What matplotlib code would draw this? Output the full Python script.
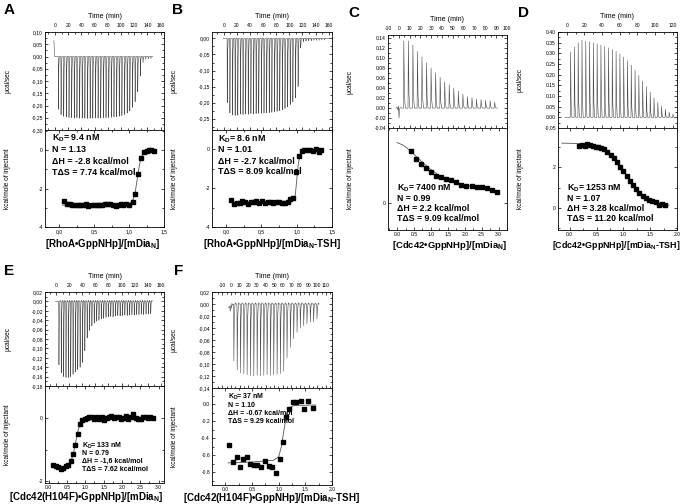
import matplotlib
matplotlib.use('Agg')
import matplotlib.pyplot as plt
from matplotlib.ticker import MultipleLocator, FuncFormatter, FixedLocator

plt.rcParams['font.family'] = ['Liberation Sans', 'DejaVu Sans']
plt.rcParams['axes.unicode_minus'] = False
plt.rcParams['mathtext.fontset'] = 'custom'
plt.rcParams['mathtext.rm'] = 'Liberation Sans'
plt.rcParams['mathtext.bf'] = 'Liberation Sans:bold'
plt.rcParams['mathtext.it'] = 'Liberation Sans:italic'

# ---------------- data ----------------
# Panel A
A_inj_time = [5, 9, 13, 17, 21, 25, 29, 33, 37, 41, 45, 49, 53, 57, 61, 65, 69, 73, 77, 81,
              85, 89, 93, 97, 101, 105, 109, 113, 117, 121, 125, 129, 133, 137, 141, 145]
A_inj_peak = [-0.215, -0.238, -0.244, -0.247, -0.249, -0.25, -0.251, -0.25, -0.252, -0.251,
              -0.252, -0.253, -0.252, -0.252, -0.251, -0.252, -0.251, -0.25, -0.25, -0.249,
              -0.248, -0.247, -0.246, -0.244, -0.241, -0.237, -0.231, -0.222, -0.208, -0.185,
              -0.145, -0.08, -0.025, -0.012, -0.01, -0.008]
A_pre_t = [-1.5, -1.0, -0.4]
A_pre_y = [0.065, 0.03, 0.0]
A_end_t = 148
A_ratio = [0.07, 0.11, 0.15, 0.19, 0.23, 0.27, 0.30, 0.34, 0.38, 0.42, 0.46, 0.50, 0.54, 0.57,
           0.61, 0.65, 0.69, 0.73, 0.77, 0.81, 0.84, 0.88, 0.92, 0.96, 1.00, 1.05, 1.09, 1.13,
           1.17, 1.21, 1.25, 1.28, 1.32, 1.35]
A_heat = [-2.65, -2.78, -2.82, -2.84, -2.86, -2.83, -2.87, -2.85, -2.82, -2.89, -2.88, -2.86,
          -2.87, -2.84, -2.83, -2.82, -2.80, -2.78, -2.87, -2.90, -2.85, -2.82, -2.88, -2.80,
          -2.86, -2.72, -2.28, -1.25, -0.42, -0.10, -0.02, 0.0, 0.0, -0.05]
A_fit_x = [0.05, 0.5, 0.95, 1.02, 1.06, 1.09, 1.12, 1.15, 1.18, 1.22, 1.27, 1.36]
A_fit_y = [-2.86, -2.85, -2.82, -2.75, -2.55, -2.15, -1.45, -0.75, -0.30, -0.08, -0.02, 0.0]
A_text = ['K$_\\mathbf{D}$= 9.4 nM', 'N = 1.13', '\u0394H = -2.8 kcal/mol', 'T\u0394S = 7.74 kcal/mol']

# Panel B
B_inj_time = [5, 9, 13, 17, 21, 25, 29, 33, 37, 41, 45, 49, 53, 57, 61, 65, 69, 73, 77, 81,
              85, 89, 93, 97, 101, 105, 109, 113, 117, 121, 125, 129, 133, 137, 141, 145, 149, 153]
B_inj_peak = [-0.2, -0.232, -0.238, -0.24, -0.239, -0.236, -0.237, -0.235, -0.236, -0.234,
              -0.235, -0.234, -0.233, -0.233, -0.232, -0.232, -0.231, -0.23, -0.229, -0.227,
              -0.225, -0.222, -0.218, -0.213, -0.206, -0.197, -0.185, -0.15, -0.03, -0.01,
              -0.008, -0.007, -0.007, -0.006, -0.006, -0.006, -0.005, -0.005]
B_pre_t = [-1.0]
B_pre_y = [0.0]
B_end_t = 163
B_ratio = [0.07, 0.11, 0.15, 0.19, 0.23, 0.27, 0.31, 0.35, 0.39, 0.43, 0.47, 0.51, 0.55, 0.59,
           0.63, 0.67, 0.71, 0.75, 0.79, 0.83, 0.87, 0.91, 0.95, 0.99, 1.03, 1.07, 1.11, 1.15,
           1.19, 1.23, 1.27, 1.31, 1.35]
B_heat = [-2.62, -2.82, -2.75, -2.76, -2.68, -2.72, -2.80, -2.70, -2.72, -2.68, -2.74, -2.68,
          -2.76, -2.70, -2.72, -2.75, -2.73, -2.72, -2.75, -2.78, -2.72, -2.58, -2.50, -1.15,
          -0.35, -0.08, -0.05, -0.02, -0.02, -0.10, 0.02, -0.12, -0.05]
B_fit_x = [0.05, 0.5, 0.9, 0.95, 0.98, 1.0, 1.02, 1.05, 1.09, 1.15, 1.36]
B_fit_y = [-2.73, -2.72, -2.70, -2.62, -2.35, -1.6, -0.8, -0.25, -0.06, -0.02, 0.0]
B_text = ['K$_\\mathbf{D}$= 8.6 nM', 'N = 1.01', '\u0394H = -2.7 kcal/mol', 'T\u0394S = 8.09 kcal/mol']

# Panel C
C_inj_time = [4.3, 8.5, 12.7, 16.9, 21.1, 25.3, 29.5, 33.7, 37.9, 42.1, 46.3, 50.5, 54.7,
              58.9, 63.1, 67.3, 71.5, 75.7, 79.9, 84.1, 88.3]
C_inj_peak = [0.135, 0.135, 0.127, 0.114, 0.103, 0.091, 0.081, 0.071, 0.062, 0.053, 0.047,
              0.04, 0.034, 0.028, 0.023, 0.021, 0.018, 0.017, 0.016, 0.015, 0.012]
C_pre_t = [-3.0, -1.5, -0.8, -0.3, 0.2, 0.6, 1.2, 2.5]
C_pre_y = [0.0, 0.002, -0.004, 0.004, -0.02, -0.003, 0.001, 0.0]
C_end_t = 91
C_ratio = [0.40, 0.55, 0.70, 0.85, 1.00, 1.15, 1.30, 1.45, 1.60, 1.75, 1.90, 2.05, 2.20, 2.35,
           2.50, 2.65, 2.80, 2.95]
C_heat = [2.07, 1.76, 1.57, 1.39, 1.23, 1.07, 1.04, 0.96, 0.91, 0.83, 0.73, 0.69, 0.67, 0.64,
          0.64, 0.61, 0.51, 0.43]
C_fit_x = [0.0, 0.2, 0.4, 0.6, 0.8, 1.0, 1.2, 1.4, 1.6, 1.8, 2.0, 2.2, 2.4, 2.6, 2.8, 3.0]
C_fit_y = [2.42, 2.30, 2.08, 1.82, 1.57, 1.34, 1.15, 1.00, 0.89, 0.80, 0.73, 0.67, 0.62, 0.57,
           0.52, 0.47]
C_text = ['K$_\\mathbf{D}$= 7400 nM', 'N = 0.99', '\u0394H = 2.2 kcal/mol', 'T\u0394S = 9.09 kcal/mol']

# Panel D
D_inj_time = [4, 8.3, 12.6, 16.9, 21.2, 25.5, 29.8, 34.1, 38.4, 42.7, 47, 51.3, 55.6, 59.9,
              64.2, 68.5, 72.8, 77.1, 81.4, 85.7, 90, 94.3, 98.6, 102.9, 107.2, 111.5, 115.8, 120.1]
D_inj_peak = [0.305, 0.33, 0.35, 0.362, 0.358, 0.354, 0.349, 0.344, 0.339, 0.333, 0.326, 0.318,
              0.31, 0.297, 0.282, 0.265, 0.245, 0.222, 0.197, 0.171, 0.145, 0.118, 0.092, 0.07,
              0.052, 0.038, 0.025, 0.015]
D_pre_t = [-2.0]
D_pre_y = [0.0]
D_end_t = 123
D_ratio = [0.17, 0.23, 0.28, 0.33, 0.38, 0.43, 0.48, 0.53, 0.58, 0.64, 0.70, 0.76, 0.82, 0.88,
           0.94, 1.00, 1.06, 1.12, 1.18, 1.24, 1.30, 1.36, 1.42, 1.48, 1.54, 1.60, 1.66, 1.72, 1.78]
D_heat = [3.04, 3.12, 3.08, 3.15, 3.13, 3.06, 3.03, 3.02, 2.95, 2.90, 2.78, 2.62, 2.45, 2.25,
          2.03, 1.80, 1.58, 1.35, 1.12, 0.92, 0.75, 0.60, 0.48, 0.40, 0.35, 0.28, 0.12, 0.20, 0.15]
D_fit_x = [-0.15, 0.2, 0.4, 0.6, 0.8, 0.9, 1.0, 1.1, 1.2, 1.3, 1.4, 1.5, 1.6, 1.7, 1.85]
D_fit_y = [3.20, 3.18, 3.12, 2.95, 2.55, 2.25, 1.85, 1.42, 1.05, 0.75, 0.53, 0.38, 0.27, 0.20, 0.13]
D_text = ['K$_\\mathbf{D}$= 1253 nM', 'N = 1.07', '\u0394H = 3.28 kcal/mol', 'T\u0394S = 11.20 kcal/mol']

# Panel E
E_inj_time = [4, 7.6, 11.2, 14.8, 18.4, 22, 25.6, 29.2, 32.8, 36.4, 40, 43.6, 47.2, 50.8, 54.4,
              58, 61.6, 65.2, 68.8, 72.4, 76, 79.6, 83.2, 86.8, 90.4, 94, 97.6, 101.2, 104.8,
              108.4, 112, 115.6, 119.2, 122.8, 126.4, 130, 133.6, 137.2, 140.8, 144.4]
E_inj_peak = [-0.135, -0.152, -0.16, -0.162, -0.162, -0.16, -0.155, -0.15, -0.145, -0.14, -0.13,
              -0.105, -0.078, -0.062, -0.052, -0.046, -0.042, -0.04, -0.037, -0.036, -0.034,
              -0.033, -0.032, -0.033, -0.031, -0.03, -0.031, -0.03, -0.029, -0.03, -0.029,
              -0.028, -0.029, -0.028, -0.028, -0.027, -0.028, -0.027, -0.027, -0.026]
E_pre_t = [-1.0]
E_pre_y = [0.0]
E_end_t = 147
E_ratio = [0.11, 0.19, 0.26, 0.33, 0.40, 0.48, 0.54, 0.60, 0.67, 0.72, 0.80, 0.86, 0.92, 0.99,
           1.05, 1.11, 1.18, 1.25, 1.31, 1.38, 1.45, 1.51, 1.58, 1.65, 1.71, 1.78, 1.85, 1.91,
           1.98, 2.05, 2.11, 2.18, 2.25, 2.31, 2.38, 2.45, 2.51, 2.58, 2.65, 2.71, 2.78, 2.85]
E_heat = [-1.48, -1.51, -1.55, -1.60, -1.57, -1.53, -1.47, -1.36, -1.13, -0.84, -0.50, -0.21,
          -0.08, -0.05, -0.01, 0.02, 0.01, -0.03, 0.02, -0.03, 0.04, -0.08, -0.01, 0.03, 0.07,
          0.0, 0.02, 0.04, -0.03, 0.0, 0.05, -0.03, 0.04, 0.13, 0.0, -0.03, -0.05, 0.04, 0.02,
          0.0, 0.03, 0.0]
E_fit_x = [0.1, 0.3, 0.45, 0.55, 0.62, 0.68, 0.74, 0.8, 0.86, 0.92, 1.0, 1.2, 2.85]
E_fit_y = [-1.52, -1.56, -1.55, -1.47, -1.32, -1.10, -0.75, -0.42, -0.18, -0.06, -0.01, 0.0, 0.0]
E_text = ['K$_\\mathbf{D}$= 133 nM', 'N = 0.79', '\u0394H = -1,6 kcal/mol', 'T\u0394S = 7.62 kcal/mol']

# Panel F
F_inj_time = [3, 6.9, 10.7, 14.6, 18.4, 22.3, 26.1, 30, 33.8, 37.7, 41.5, 45.4, 49.2, 53.1,
              56.9, 60.8, 64.6, 68.5, 72.3, 76.2, 80, 83.9, 87.7, 91.6, 95.4, 99.3]
F_inj_peak = [-0.095, -0.11, -0.115, -0.117, -0.118, -0.119, -0.12, -0.119, -0.12, -0.119,
              -0.118, -0.119, -0.118, -0.117, -0.116, -0.112, -0.09, -0.072, -0.058, -0.047,
              -0.04, -0.036, -0.033, -0.03, -0.03, -0.025]
F_pre_t = [-3.0, -1.5, -0.8, -0.2, 0.4, 1.0, 1.8]
F_pre_y = [-0.006, -0.004, -0.012, -0.002, -0.007, 0.001, -0.002]
F_end_t = 102
F_ratio = [0.07, 0.14, 0.21, 0.27, 0.33, 0.40, 0.47, 0.54, 0.60, 0.67, 0.74, 0.81, 0.87, 0.95,
           1.03, 1.08, 1.13, 1.20, 1.27, 1.33, 1.41, 1.48, 1.55, 1.64]
F_heat = [-0.48, -0.68, -0.62, -0.74, -0.65, -0.62, -0.70, -0.71, -0.72, -0.74, -0.67, -0.73,
          -0.74, -0.81, -0.65, -0.44, -0.15, -0.06, 0.02, 0.02, 0.04, -0.06, 0.04, -0.04]
F_fit_x = [0.05, 0.5, 0.9, 1.0, 1.05, 1.1, 1.15, 1.2, 1.3, 1.7]
F_fit_y = [-0.69, -0.68, -0.66, -0.62, -0.50, -0.30, -0.12, -0.04, -0.015, -0.01]
F_text = ['K$_\\mathbf{D}$= 37 nM', 'N = 1.10', '\u0394H = -0.67 kcal/mol', 'T\u0394S = 9.29 kcal/mol']

# ---------------- drawing ----------------
W, H = 685, 504
fig = plt.figure(figsize=(W / 100, H / 100), dpi=100)

TICK_FS = 3.6
LAB_FS = 4.7
LINE_C = '#4a4a4a'


def add_ax(l, r, t, b):
    return fig.add_axes([l / W, 1 - b / H, (r - l) / W, (b - t) / H])


def ftxt(x, y, s, **kw):
    fig.text(x / W, 1 - y / H, s, **kw)


def fmt(dec, comma):
    def f(v, pos):
        if abs(v) < 1e-9:
            v = 0.0
        s = ('%.' + str(dec) + 'f') % v
        return s.replace('.', ',') if comma else s
    return FuncFormatter(f)


def style(ax):
    for sp in ax.spines.values():
        sp.set_linewidth(0.6)
    ax.tick_params(which='both', direction='in', top=True, bottom=True, left=True, right=True,
                   width=0.5, labelsize=TICK_FS, pad=1.5)
    ax.tick_params(which='major', length=2.2)
    ax.tick_params(which='minor', length=1.2)


def trace(times, peaks, pre_t, pre_y, end_t, over):
    xs = list(pre_t)
    ys = list(pre_y)
    for t, p in zip(times, peaks):
        xs += [t, t + 0.3, t + 0.9, t + 1.7]
        ys += [0.0, p, 0.2 * p, 0.0]
        if over:
            xs += [t + 2.1, t + 2.5]
            ys += [over, 0.0]
    xs.append(end_t)
    ys.append(0.0)
    return xs, ys


def panel(box, letter, letter_xy, times, peaks, pre_t, pre_y, end_t, over,
          txlim, tticks, tylim, tymaj, tcomma, tdec,
          ratio, heat, fx, fy, bxlim, bxcomma, bylim, byloc, byminor, bydec, bycomma,
          text, text_xy, text_fs, text_dy, xlabel, xlabel_xy, xlabel_fs):
    l, r, t, m, b = box
    axt = add_ax(l, r, t, m)
    axb = add_ax(l, r, m, b)
    style(axt)
    style(axb)
    # thermogram
    xs, ys = trace(times, peaks, pre_t, pre_y, end_t, over)
    axt.plot(xs, ys, color=LINE_C, lw=0.4)
    axt.set_xlim(*txlim)
    axt.set_ylim(*tylim)
    step = tticks[1] - tticks[0]
    axt.xaxis.set_major_locator(FixedLocator(tticks))
    minors = [v + step / 2 for v in tticks] + [tticks[0] - step / 2]
    axt.xaxis.set_minor_locator(FixedLocator(minors))
    axt.yaxis.set_major_locator(MultipleLocator(tymaj))
    axt.yaxis.set_minor_locator(MultipleLocator(tymaj / 2))
    axt.yaxis.set_major_formatter(fmt(tdec, tcomma))
    axt.tick_params(axis='x', labeltop=True, labelbottom=False, pad=3.0)
    axt.xaxis.set_label_position('top')
    axt.set_xlabel('Time (min)', fontsize=LAB_FS + 0.4, labelpad=3.5)
    axt.set_ylabel('\u00b5cal/sec', fontsize=LAB_FS)
    axt.yaxis.set_label_coords(-34 / (r - l), 0.5)
    # isotherm
    axb.plot(fx, fy, color='#555555', lw=0.6, zorder=2)
    axb.plot(ratio, heat, ls='none', marker='s', ms=2.2, color='black', zorder=3)
    axb.set_xlim(*bxlim)
    axb.set_ylim(*bylim)
    axb.xaxis.set_major_locator(MultipleLocator(0.5))
    axb.xaxis.set_minor_locator(MultipleLocator(0.25))
    axb.xaxis.set_major_formatter(fmt(1, bxcomma))
    axb.yaxis.set_major_locator(byloc)
    if byminor:
        axb.yaxis.set_minor_locator(MultipleLocator(byminor))
    axb.yaxis.set_major_formatter(fmt(bydec, bycomma))
    axb.set_ylabel('kcal/mole of injectant', fontsize=LAB_FS)
    axb.yaxis.set_label_coords(-34 / (r - l), 0.5)
    # texts
    ftxt(letter_xy[0], letter_xy[1], letter, fontsize=11, fontweight='bold', va='center', ha='left')
    for i, s in enumerate(text):
        ftxt(text_xy[0], text_xy[1] + i * text_dy, s, fontsize=text_fs, fontweight='bold',
             va='center', ha='left')
    ftxt(xlabel_xy[0], xlabel_xy[1], xlabel, fontsize=xlabel_fs, fontweight='bold',
         va='center', ha='center')


panel((45, 164, 32, 130, 227), 'A', (4, 10), A_inj_time, A_inj_peak, A_pre_t, A_pre_y, A_end_t, 0,
      (-15, 165), list(range(0, 161, 20)), (-0.30, 0.10), 0.05, True, 2,
      A_ratio, A_heat, A_fit_x, A_fit_y, (-0.2, 1.5), True, (-4, 1.05), MultipleLocator(2), 1, 0, False,
      A_text, (52, 138), 6.4, 11.5, '[RhoA\u2022GppNHp]/[mDia$_\\mathbf{N}$]', (103, 244), 7)

panel((212, 332, 32, 130, 227), 'B', (172, 10), B_inj_time, B_inj_peak, B_pre_t, B_pre_y, B_end_t, 0,
      (-18, 165), list(range(0, 161, 20)), (-0.285, 0.02), 0.05, True, 2,
      B_ratio, B_heat, B_fit_x, B_fit_y, (-0.2, 1.5), True, (-4, 1.0), MultipleLocator(2), 1, 0, False,
      B_text, (218, 139), 6.4, 11.0, '[RhoA\u2022GppNHp]/[mDia$_\\mathbf{N}$-TSH]', (272, 244), 7)

panel((388, 507, 35, 128, 230), 'C', (348, 13), C_inj_time, C_inj_peak, C_pre_t, C_pre_y, C_end_t, 0,
      (-10, 100), list(range(-10, 101, 10)), (-0.04, 0.147), 0.02, False, 2,
      C_ratio, C_heat, C_fit_x, C_fit_y, (-0.27, 3.25), False, (-1.07, 3.0), FixedLocator([0]), None, 0, False,
      C_text, (397, 188), 6.3, 10.3, '[Cdc42\u2022GppNHp]/[mDia$_\\mathbf{N}$]', (450, 246), 6.8)

panel((558, 677, 32, 128, 230), 'D', (518, 13), D_inj_time, D_inj_peak, D_pre_t, D_pre_y, D_end_t, 0,
      (-10, 125), list(range(0, 121, 20)), (-0.05, 0.40), 0.05, False, 2,
      D_ratio, D_heat, D_fit_x, D_fit_y, (-0.22, 2.0), False, (-1.1, 3.95), MultipleLocator(2), 1, 0, False,
      D_text, (567, 188), 6.3, 10.3, '[Cdc42\u2022GppNHp]/[mDia$_\\mathbf{N}$-TSH]', (616, 246), 6.4)

panel((45, 164, 292, 386, 483), 'E', (4, 271), E_inj_time, E_inj_peak, E_pre_t, E_pre_y, E_end_t, 0.002,
      (-17, 165), list(range(0, 161, 20)), (-0.18, 0.02), 0.02, True, 2,
      E_ratio, E_heat, E_fit_x, E_fit_y, (-0.1, 3.15), False, (-2.05, 1.0), MultipleLocator(2), 1, 0, False,
      E_text, (82, 446), 5.0, 7.8, '[Cdc42(H104F)\u2022GppNHp]/[mDia$_\\mathbf{N}$]', (86, 497), 7)

panel((212, 332, 292, 388, 485), 'F', (174, 271), F_inj_time, F_inj_peak, F_pre_t, F_pre_y, F_end_t, 0.002,
      (-22, 117), list(range(-10, 111, 10)), (-0.14, 0.02), 0.02, True, 2,
      F_ratio, F_heat, F_fit_x, F_fit_y, (-0.25, 2.0), False, (-0.95, 0.19), MultipleLocator(0.2), 0.1, 1, False,
      F_text, (228, 397), 5.0, 8.3, '[Cdc42(H104F)\u2022GppNHp]/[mDia$_\\mathbf{N}$-TSH]', (272, 498), 7)

fig.savefig('out.png', dpi=100)
